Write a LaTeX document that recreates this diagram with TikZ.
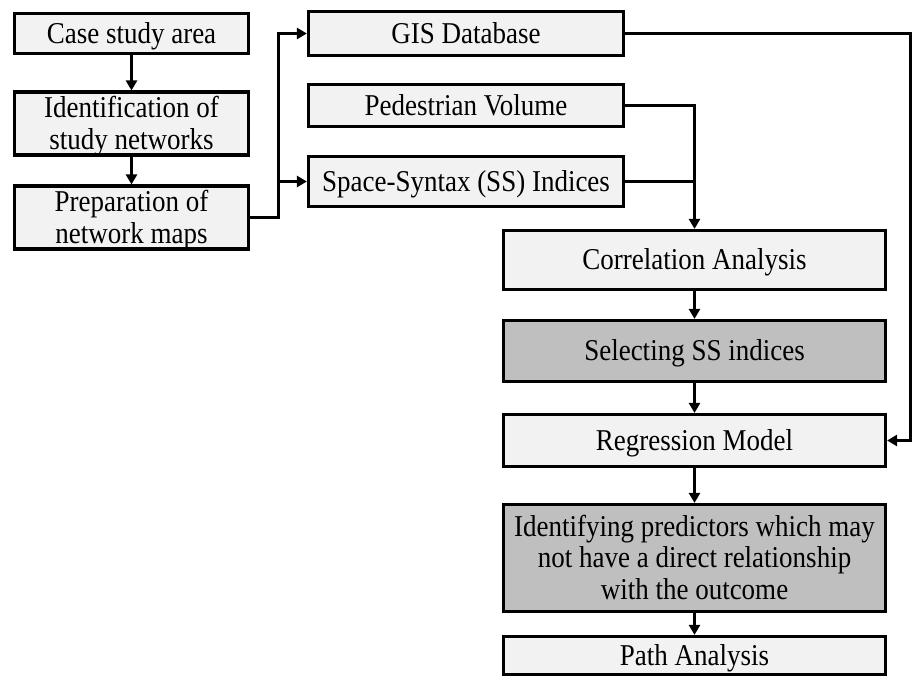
\documentclass[tikz,border=0pt]{standalone}
\usepackage{fontspec}
\setmainfont{Liberation Serif}
\usetikzlibrary{arrows.meta}
\definecolor{boxlight}{HTML}{F2F2F2}
\definecolor{boxdark}{HTML}{BFBFBF}
% text in the reference is a little taller than plain Times
\newcommand{\tallt}[1]{\raisebox{-3.5pt}[\height][\depth]{\scalebox{1}[1.12]{\begin{tabular}{@{}c@{}}#1\end{tabular}}}}
\begin{document}
\begin{tikzpicture}[x=1pt,y=-1pt,
  stepbox/.style={draw, line width=3.2pt, fill=boxlight, inner sep=0pt, align=center,
    font=\fontsize{27}{28.1}\selectfont},
  darkbox/.style={stepbox, fill=boxdark},
  link/.style={line width=3pt},
  arr/.style={link, -{Triangle[length=10pt,width=11pt]}}]
\useasboundingbox (0,0) rectangle (915,678);
% left column
\node[stepbox, minimum width=234pt, minimum height=40pt] (case) at (131.5,33.5){\tallt{Case study area}};
\node[stepbox, minimum width=234pt, minimum height=56pt] (ident) at (131.5,123.5){\tallt{Identification of\\study networks}};
\node[stepbox, minimum width=234pt, minimum height=56pt] (prep) at (131.5,217.5){\tallt{Preparation of\\network maps}};
% middle column
\node[stepbox, minimum width=315pt, minimum height=44pt] (gis) at (466,33.5){\tallt{GIS Database}};
\node[stepbox, minimum width=315pt, minimum height=42pt] (ped) at (466,105.5){\tallt{Pedestrian Volume}};
\node[stepbox, minimum width=315pt, minimum height=50pt] (ss) at (466,181.5){\tallt{Space-Syntax (SS) Indices}};
% right column
\node[stepbox, minimum width=382pt, minimum height=59pt] (corr) at (694.5,260){\tallt{Correlation Analysis}};
\node[darkbox, minimum width=382pt, minimum height=61pt] (sel) at (694.5,351){\tallt{Selecting SS indices}};
\node[stepbox, minimum width=382pt, minimum height=52pt] (reg) at (694.5,440.5){\tallt{Regression Model}};
\node[darkbox, minimum width=382pt, minimum height=107pt] (iden) at (694.5,558){\tallt{Identifying predictors which may\\not have a direct relationship\\with the outcome}};
\node[stepbox, minimum width=382pt, minimum height=38pt] (path) at (694.5,655.5){\tallt{Path Analysis}};
% connectors
\draw[arr](case) -- (ident);
\draw[arr](ident) -- (prep);
\coordinate (split) at (278,217.5);
\draw[arr](prep.east) -- (split) |- (gis.west);
\draw[arr](split |- ss.west) -- (ss.west);
\draw[arr](ped.east) -| (corr.north);
\draw[link](ss.east) -- (ss.east -| corr.north);
\draw[arr](gis.east) -- ++(285,0) |- (reg.east);
\draw[arr](corr) -- (sel);
\draw[arr](sel) -- (reg);
\draw[arr](reg) -- (iden);
\draw[arr](iden) -- (path);
\end{tikzpicture}
\end{document}
